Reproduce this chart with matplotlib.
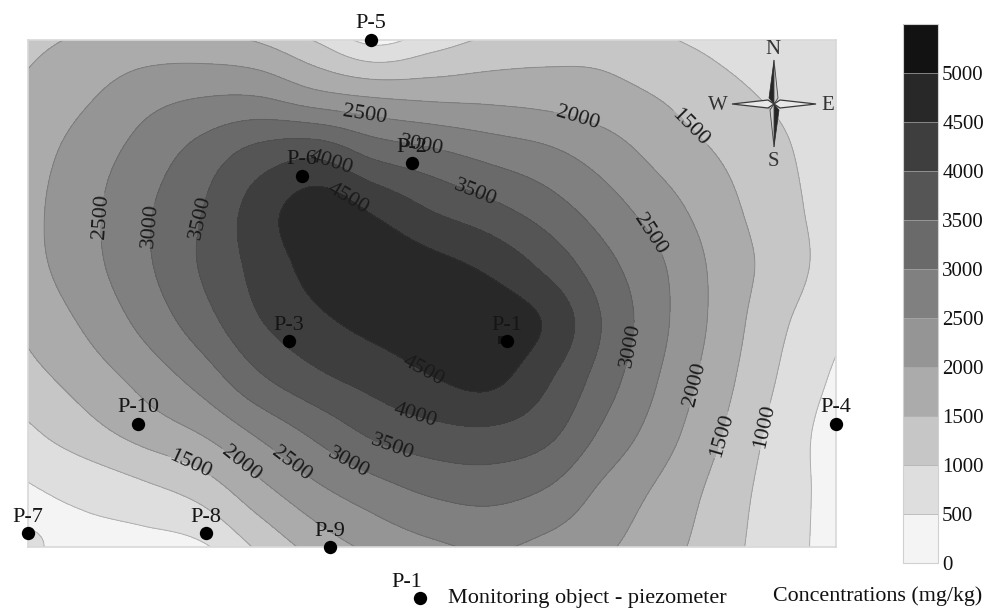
import numpy as np
import matplotlib
matplotlib.use("Agg")
import matplotlib.pyplot as plt
from matplotlib.patches import Polygon

plt.rcParams['font.family'] = ['Liberation Serif', 'DejaVu Serif']

W = 987
H = 609

# map positions are read in picture pixels
grid_x = [28, 86, 143, 201, 259, 317, 374, 432, 490, 548, 605, 663, 721, 778, 836]
grid_y = [40, 96, 153, 209, 265, 322, 378, 434, 491, 547]

row_040 = [1400, 1560, 1680, 1640, 1450, 950, 350, 750, 1080, 1250, 1300, 1050, 880, 780, 700]
row_096 = [1590, 1930, 2300, 2480, 2490, 2150, 1960, 1880, 1860, 1800, 1680, 1460, 1150, 930, 780]
row_153 = [1770, 2230, 2690, 3185, 3680, 3860, 3360, 3100, 2830, 2600, 2250, 1820, 1460, 1100, 730]
row_209 = [1860, 2350, 2900, 3480, 4240, 4760, 4420, 3970, 3640, 3230, 2730, 2210, 1680, 1200, 760]
row_265 = [1830, 2320, 2890, 3540, 4170, 4680, 4780, 4640, 4380, 3850, 3160, 2530, 1830, 1290, 760]
row_322 = [1620, 2080, 2630, 3270, 3960, 4390, 4640, 4750, 4800, 4430, 3440, 2590, 1820, 1115, 620]
row_378 = [1330, 1730, 2170, 2710, 3420, 3890, 4190, 4480, 4630, 4060, 3240, 2440, 1690, 980, 420]
row_434 = [900, 1300, 1670, 2010, 2570, 3110, 3580, 3820, 3890, 3620, 2880, 2210, 1510, 830, 270]
row_491 = [460, 620, 860, 1190, 1830, 2390, 2780, 3080, 3170, 2950, 2380, 1880, 1320, 750, 330]
row_547 = [550, 380, 300, 420, 1080, 1700, 2120, 2400, 2560, 2340, 2070, 1680, 1220, 700, 350]

levels = [0, 500, 1000, 1500, 2000, 2500, 3000, 3500, 4000, 4500, 5000, 5500]
band_colors = ['#f4f4f4', '#dedede', '#c6c6c6', '#ababab', '#959595', '#808080',
               '#6a6a6a', '#555555', '#3e3e3e', '#282828', '#121212']

well_names = ['P-1', 'P-2', 'P-3', 'P-4', 'P-5', 'P-6', 'P-7', 'P-8', 'P-9', 'P-10']
well_x = [507, 412, 289, 836, 371, 302, 28, 206, 330, 138]
well_y = [341, 163, 341, 424, 40, 176, 533, 533, 547, 424]

label_pos = [(365, 116), (422, 145), (330, 166), (345, 203), (478, 187), (577, 119),
             (690, 128), (648, 236), (632, 346), (697, 385), (722, 435), (764, 426),
             (106, 217), (155, 226), (201, 217), (423, 372), (416, 413), (392, 447),
             (346, 467), (290, 466), (240, 465), (190, 466)]


def upsample(values, n):
    # Catmull-Rom along the first axis, only to round off the grid corners
    a = np.vstack([2 * values[0] - values[1], values, 2 * values[-1] - values[-2]])
    m = values.shape[0]
    out = []
    for i in range(m - 1):
        for t in np.linspace(0, 1, n, endpoint=False):
            p0, p1, p2, p3 = a[i], a[i + 1], a[i + 2], a[i + 3]
            out.append(0.5 * (2 * p1 + (p2 - p0) * t + (2 * p0 - 5 * p1 + 4 * p2 - p3) * t ** 2
                              + (3 * p1 - p0 - 3 * p2 + p3) * t ** 3))
    out.append(values[-1])
    return np.array(out)


def fig_xy(x, y):
    return x / W, 1 - y / H


z = np.array([row_040, row_096, row_153, row_209, row_265,
              row_322, row_378, row_434, row_491, row_547], dtype=float)
N = 12
z_fine = upsample(upsample(z, N).T, N).T
x_fine = upsample(np.array(grid_x, dtype=float)[:, None], N)[:, 0]
y_fine = upsample(np.array(grid_y, dtype=float)[:, None], N)[:, 0]

fig = plt.figure(figsize=(W / 100, H / 100), dpi=100)
ax = fig.add_axes([28 / W, 1 - 547 / H, 808 / W, 507 / H])

cf = ax.contourf(x_fine, y_fine, z_fine, levels=levels, colors=band_colors)
cs = ax.contour(x_fine, y_fine, z_fine, levels=levels[1:-1], colors=[(0.25, 0.25, 0.25, 0.3)],
                linewidths=0.7)
ax.set_xlim(28, 836)
ax.set_ylim(547, 40)
ax.set_xticks([])
ax.set_yticks([])
for s in ax.spines.values():
    s.set_color('#d8d8d8')
    s.set_linewidth(1.2)

labs = ax.clabel(cs, fmt='%d', fontsize=16, colors='#1a1a1a', manual=label_pos, inline=True,
                 inline_spacing=2)

# piezometers
ax.plot(well_x, well_y, 'o', color='black', ms=9.6, mew=0, clip_on=False, zorder=6)
ax.plot([502], [340], 's', color='#151515', ms=6, mew=0, zorder=5)
for name, x, y in zip(well_names, well_x, well_y):
    ax.text(x, y - 11.5, name, fontsize=16, ha='center', va='baseline',
            color='#151515', clip_on=False, zorder=7)

# compass
cx, cy = 774, 104
ax.add_patch(Polygon([(cx, 60), (cx - 5, 98), (cx, cy)], fc='#262626', ec='#262626', lw=0.5, zorder=4))
ax.add_patch(Polygon([(cx, 60), (cx + 4, 98), (cx, cy)], fc='#cfcfcf', ec='#444444', lw=0.6, zorder=4))
ax.add_patch(Polygon([(cx, 147), (cx + 5, 110), (cx, cy)], fc='#262626', ec='#262626', lw=0.5, zorder=4))
ax.add_patch(Polygon([(cx, 147), (cx - 4, 110), (cx, cy)], fc='#cfcfcf', ec='#444444', lw=0.6, zorder=4))
ax.add_patch(Polygon([(732, cy), (cx - 6, cy - 4), (cx, cy), (cx - 6, cy + 4)], fc='#e8e8e8', ec='#3a3a3a', lw=0.9, zorder=4))
ax.add_patch(Polygon([(816, cy), (cx + 6, cy - 4), (cx, cy), (cx + 6, cy + 4)], fc='#e8e8e8', ec='#3a3a3a', lw=0.9, zorder=4))
for t, x, y in [('N', 773, 50), ('S', 773, 162), ('W', 718, 105), ('E', 828, 105)]:
    ax.text(x, y, t, fontsize=15, ha='center', va='center', color='#333333', clip_on=False, zorder=7)

# colour bar
cax = fig.add_axes([903 / W, 1 - 563 / H, 35 / W, 539 / H])
cb = fig.colorbar(cf, cax=cax, ticks=levels[:-1], spacing='proportional', drawedges=True)
cb.dividers.set_color('#a8a8a8')
cb.dividers.set_linewidth(0.5)
cb.outline.set_edgecolor('#d0d0d0')
cb.outline.set_linewidth(0.8)
cb.ax.tick_params(length=0, pad=3, labelsize=15, labelcolor='#111111')

# legend line under the map
px, py = fig_xy(420, 598)
fig.add_artist(plt.Line2D([px], [py], marker='o', color='black', ms=9.6, mew=0, transform=fig.transFigure))
fig.text(*fig_xy(407, 587), 'P-1', fontsize=16, ha='center', va='baseline', color='#111111')
fig.text(*fig_xy(448, 603), 'Monitoring object - piezometer', fontsize=16, va='baseline', color='#111111')
fig.text(*fig_xy(773, 601), 'Concentrations (mg/kg)', fontsize=15.8, va='baseline', color='#111111')

fig.savefig('out.png', dpi=100)
